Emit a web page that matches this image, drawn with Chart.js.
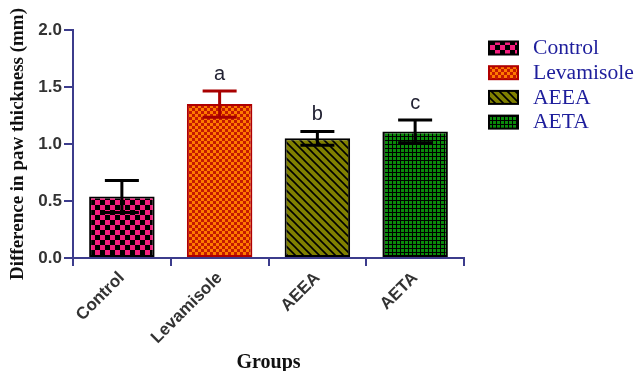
<!DOCTYPE html>
<html>
<head>
<meta charset="utf-8">
<script src="https://cdn.jsdelivr.net/npm/chart.js@4.4.1/dist/chart.umd.min.js"></script>
<style>
  html, body { margin: 0; padding: 0; background: #ffffff; }
  #wrap { width: 635px; height: 371px; }
</style>
</head>
<body>
<div id="wrap"><canvas id="chart" width="635" height="371"></canvas></div>
<script>
// Paw thickness difference per treatment group (mean ± SEM)
const groups = ['Control', 'Levamisole', 'AEEA', 'AETA'];
const meanDiff = [0.54, 1.35, 1.05, 1.11];
const semDiff = [0.14, 0.115, 0.06, 0.10];
const sigLetters = ['', 'a', 'b', 'c'];
const yTicks = [0, 0.5, 1.0, 1.5, 2.0];

const AXIS_COLOR = '#3c3c8c';

// Fill patterns, one per group
function makeTile(w, h, paint) {
  const c = document.createElement('canvas');
  c.width = w; c.height = h;
  const g = c.getContext('2d');
  paint(g, w, h);
  return document.getElementById('chart').getContext('2d').createPattern(c, 'repeat');
}

const patControl = makeTile(10, 10, (g) => {
  g.fillStyle = '#f51d7d'; g.fillRect(0, 0, 10, 10);
  g.fillStyle = '#000000'; g.fillRect(0, 0, 5, 5); g.fillRect(5, 5, 5, 5);
});
const patLevamisole = makeTile(6, 6, (g) => {
  g.fillStyle = '#ff7a00'; g.fillRect(0, 0, 6, 6);
  g.fillStyle = '#c41a00'; g.fillRect(0, 0, 3, 3); g.fillRect(3, 3, 3, 3);
});
const patAEEA = makeTile(8, 8, (g) => {
  g.fillStyle = '#808000'; g.fillRect(0, 0, 8, 8);
  g.strokeStyle = '#000000'; g.lineWidth = 1.6;
  g.beginPath();
  g.moveTo(-2, -2); g.lineTo(10, 10);
  g.moveTo(-2, 6); g.lineTo(2, 10);
  g.moveTo(6, -2); g.lineTo(10, 2);
  g.stroke();
});
const patAETA = makeTile(4, 4, (g) => {
  g.fillStyle = '#000000'; g.fillRect(0, 0, 4, 4);
  g.fillStyle = '#0a8a0a'; g.fillRect(1, 1, 3, 3);
});

const fills = [patControl, patLevamisole, patAEEA, patAETA];
const borders = ['#000000', '#b00000', '#000000', '#000000'];
const errColors = ['#000000', '#a80000', '#000000', '#000000'];

// Error bars and significance letters drawn on top of the bars
const errorBarPlugin = {
  id: 'errorBars',
  afterDatasetsDraw(chart) {
    const ctx = chart.ctx;
    const ys = chart.scales.y;
    const meta = chart.getDatasetMeta(0);
    ctx.save();
    meta.data.forEach((bar, i) => {
      const x = bar.x;
      const yHi = ys.getPixelForValue(meanDiff[i] + semDiff[i]);
      const yLo = ys.getPixelForValue(meanDiff[i] - semDiff[i]);
      const half = 17;
      ctx.strokeStyle = errColors[i];
      ctx.lineWidth = 3;
      ctx.lineCap = 'butt';
      ctx.beginPath();
      ctx.moveTo(x, yHi); ctx.lineTo(x, yLo);
      ctx.moveTo(x - half, yHi); ctx.lineTo(x + half, yHi);
      ctx.moveTo(x - half, yLo); ctx.lineTo(x + half, yLo);
      ctx.stroke();
      if (sigLetters[i]) {
        ctx.fillStyle = '#222233';
        ctx.font = '20px "Liberation Sans", Arial, sans-serif';
        ctx.textAlign = 'center';
        ctx.textBaseline = 'middle';
        ctx.fillText(sigLetters[i], x, yHi - 17);
      }
    });
    ctx.restore();
  }
};

// Legend with pattern swatches on the right
const swatchLegendPlugin = {
  id: 'swatchLegend',
  afterDraw(chart) {
    const ctx = chart.ctx;
    const x0 = 489, w = 29, h = 13;
    const yStart = 48, step = 24.7;
    ctx.save();
    groups.forEach((name, i) => {
      const cy = yStart + i * step;
      ctx.fillStyle = fills[i];
      ctx.fillRect(x0, cy - h / 2, w, h);
      ctx.strokeStyle = borders[i];
      ctx.lineWidth = 2;
      ctx.strokeRect(x0, cy - h / 2, w, h);
      ctx.save();
      ctx.translate(533, cy + 1);
      ctx.scale(1.08, 1);
      ctx.fillStyle = '#1e1e9c';
      ctx.font = '20px "Liberation Serif", "Times New Roman", serif';
      ctx.textAlign = 'left';
      ctx.textBaseline = 'middle';
      ctx.fillText(name, 0, 0);
      ctx.restore();
    });
    ctx.restore();
  }
};

new Chart(document.getElementById('chart'), {
  type: 'bar',
  data: {
    labels: groups,
    datasets: [{
      data: meanDiff,
      backgroundColor: fills,
      borderColor: borders,
      borderWidth: 2,
      borderSkipped: false,
      categoryPercentage: 0.67,
      barPercentage: 1.0
    }]
  },
  options: {
    responsive: false,
    animation: false,
    events: [],
    layout: { padding: { left: 0, top: 30, right: 171, bottom: 0 } },
    plugins: {
      legend: { display: false },
      tooltip: { enabled: false }
    },
    scales: {
      x: {
        afterFit(scale) { scale.height = 113; },
        border: { color: AXIS_COLOR, width: 2 },
        grid: { drawOnChartArea: false, color: AXIS_COLOR, lineWidth: 2, tickLength: 8 },
        ticks: {
          minRotation: 45, maxRotation: 45,
          color: '#333333',
          padding: 2,
          font: { family: '"Liberation Sans", Arial, sans-serif', size: 17, weight: 'bold' }
        },
        title: {
          display: true,
          text: 'Groups',
          color: '#111111',
          padding: { top: 0, bottom: -4 },
          font: { family: '"Liberation Serif", "Times New Roman", serif', size: 20, weight: 'bold' }
        }
      },
      y: {
        min: 0, max: 2,
        afterFit(scale) { scale.width = 73; },
        afterBuildTicks(scale) { scale.ticks = yTicks.map(v => ({ value: v })); },
        border: { color: AXIS_COLOR, width: 2 },
        grid: { drawOnChartArea: false, color: AXIS_COLOR, lineWidth: 2, tickLength: 9 },
        ticks: {
          color: '#333333',
          padding: 2,
          callback: (v) => Number(v).toFixed(1),
          font: { family: '"Liberation Sans", Arial, sans-serif', size: 17, weight: 'bold' }
        },
        title: {
          display: true,
          text: 'Difference in paw thickness (mm)',
          color: '#111111',
          padding: { top: 7, bottom: 0 },
          font: { family: '"Liberation Serif", "Times New Roman", serif', size: 19, weight: 'bold' }
        }
      }
    }
  },
  plugins: [errorBarPlugin, swatchLegendPlugin]
});
</script>
</body>
</html>
